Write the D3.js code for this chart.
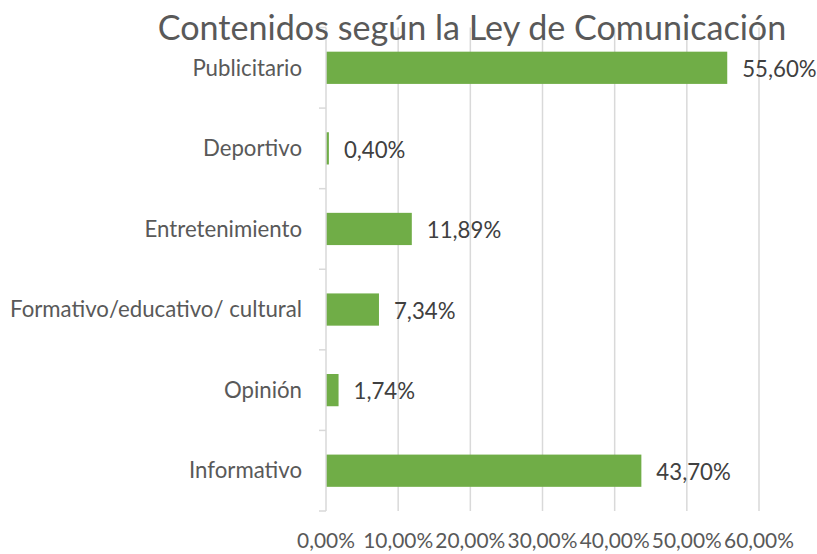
<!DOCTYPE html>
<html>
<head>
<meta charset="utf-8">
<script src="https://cdn.jsdelivr.net/npm/d3@7"></script>
<style>
  body { margin: 0; background: #fff; }
  text { font-family: Lato, "Open Sans", sans-serif; fill: #595959; }
</style>
</head>
<body>
<div id="chart"></div>
<script>
// data, top to bottom as shown
const categories = ['Publicitario', 'Deportivo', 'Entretenimiento', 'Formativo/educativo/ cultural', 'Opinión', 'Informativo'];
const values = [55.60, 0.40, 11.89, 7.34, 1.74, 43.70];
const xTicks = [0, 10, 20, 30, 40, 50, 60];
const title = 'Contenidos según la Ley de Comunicación';

const width = 817;
const height = 554;
const margin = { top: 27.5, right: 58, bottom: 43, left: 326 };

const svg = d3.select('#chart').append('svg').attr('width', width).attr('height', height);

const fmt = (v) => v.toFixed(2).replace('.', ',') + '%';

// size a font so that a given string spans the wanted width
function fitSize(str, target, base) {
  const t = svg.append('text').attr('font-size', base).text(str);
  const w = t.node().getComputedTextLength();
  t.remove();
  return base * target / w;
}

const x = d3.scaleLinear().domain([0, 60]).range([margin.left, width - margin.right]);
const y = d3.scaleBand().domain(categories).range([margin.top, height - margin.bottom]);
const barH = y.bandwidth() * 0.4;

// gridlines
svg.append('g')
  .selectAll('line')
  .data(xTicks.slice(1))
  .enter()
  .append('line')
  .attr('x1', (d) => x(d))
  .attr('x2', (d) => x(d))
  .attr('y1', margin.top)
  .attr('y2', height - margin.bottom)
  .attr('stroke', '#d9d9d9')
  .attr('stroke-width', 1.5);

// bars
svg.append('g')
  .selectAll('rect')
  .data(values)
  .enter()
  .append('rect')
  .attr('x', x(0))
  .attr('y', (d, i) => y(categories[i]) + (y.bandwidth() - barH) / 2)
  .attr('width', (d) => x(d) - x(0))
  .attr('height', barH)
  .attr('fill', '#70ad47');

// category axis with ticks between bands
const axis = svg.append('g');
axis.append('line')
  .attr('x1', x(0)).attr('x2', x(0))
  .attr('y1', margin.top).attr('y2', height - margin.bottom)
  .attr('stroke', '#d9d9d9').attr('stroke-width', 1.5);
const bounds = categories.map((c) => y(c)).concat([y.range()[1]]);
axis.selectAll('.tick')
  .data(bounds)
  .enter()
  .append('line')
  .attr('x1', x(0) - 7).attr('x2', x(0))
  .attr('y1', (d) => d).attr('y2', (d) => d)
  .attr('stroke', '#d9d9d9').attr('stroke-width', 1.5);

const labelSize = fitSize('Formativo/educativo/ cultural', 292, 19);
axis.selectAll('.cat')
  .data(categories)
  .enter()
  .append('text')
  .attr('x', 302)
  .attr('y', (d) => y(d) + y.bandwidth() / 2)
  .attr('dy', '0.35em')
  .attr('text-anchor', 'end')
  .attr('font-size', labelSize)
  .text((d) => d);

// value labels
svg.append('g')
  .selectAll('text')
  .data(values)
  .enter()
  .append('text')
  .attr('x', (d) => x(d) + 15)
  .attr('y', (d, i) => y(categories[i]) + y.bandwidth() / 2 + 1.5)
  .attr('dy', '0.35em')
  .attr('font-size', labelSize)
  .style('fill', '#404040')
  .text((d) => fmt(d));

// x tick labels
const tickSize = fitSize('10,00%', 70, 19);
svg.append('g')
  .selectAll('text')
  .data(xTicks)
  .enter()
  .append('text')
  .attr('x', (d) => x(d))
  .attr('y', 548)
  .attr('text-anchor', 'middle')
  .attr('font-size', tickSize)
  .text((d) => fmt(d));

// title
svg.append('text')
  .attr('x', 472)
  .attr('y', 39.5)
  .attr('text-anchor', 'middle')
  .attr('font-size', fitSize(title, 629, 32))
  .text(title);
</script>
</body>
</html>
